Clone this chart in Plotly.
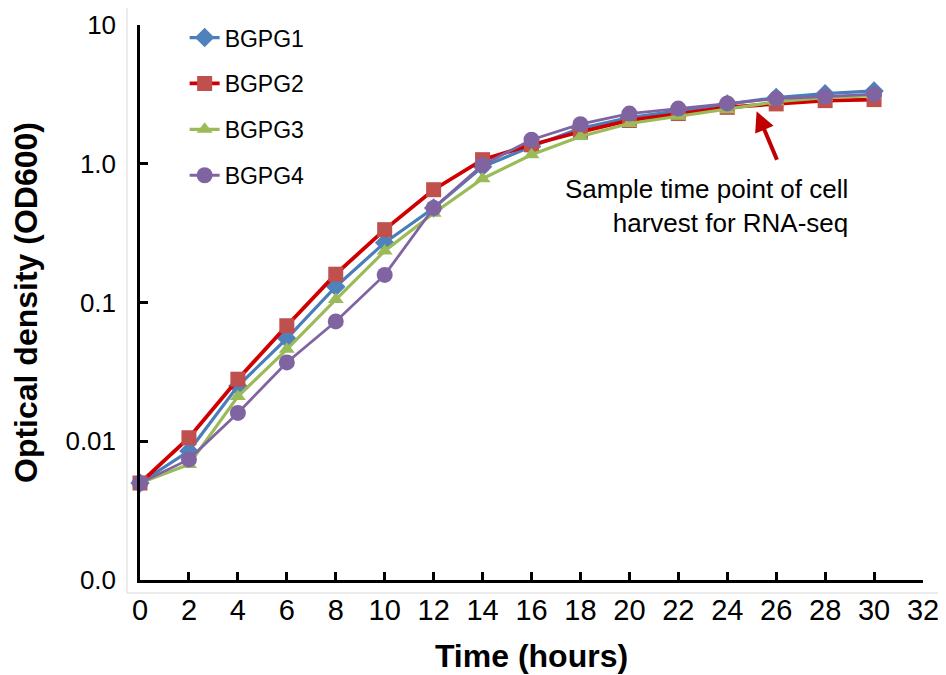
import plotly.graph_objects as go

time_h = [0, 2, 4, 6, 8, 10, 12, 14, 16, 18, 20, 22, 24, 26, 28, 30]
bgpg1 = [0.005, 0.0085, 0.025, 0.055, 0.13, 0.27, 0.48, 0.95, 1.33, 1.8, 2.15, 2.4, 2.7, 3.0, 3.2, 3.35]
bgpg2 = [0.005, 0.0106, 0.028, 0.068, 0.16, 0.335, 0.65, 1.07, 1.37, 1.7, 2.05, 2.3, 2.55, 2.7, 2.85, 2.9]
bgpg3 = [0.005, 0.0068, 0.021, 0.046, 0.105, 0.235, 0.44, 0.78, 1.16, 1.57, 1.95, 2.2, 2.45, 2.8, 3.0, 3.1]
bgpg4 = [0.005, 0.0074, 0.016, 0.037, 0.073, 0.158, 0.48, 0.98, 1.49, 1.93, 2.3, 2.5, 2.72, 2.95, 3.05, 3.18]

y_tickvals = [0.001, 0.01, 0.1, 1, 10]
y_ticktext = ["0.0", "0.01", "0.1", "1.0", "10"]

FONT = "Liberation Sans, Arial, sans-serif"

series = [
    ("BGPG1", bgpg1, "#4A7EBB", "#4F81BD", "diamond", 15, 3.2),
    ("BGPG2", bgpg2, "#D00000", "#C0504D", "square", 15, 3.8),
    ("BGPG3", bgpg3, "#9BBB59", "#9BBB59", "triangle-up", 14, 3.2),
    ("BGPG4", bgpg4, "#8064A2", "#8064A2", "circle", 16, 2.8),
]

fig = go.Figure()
for i, (name, vals, lc, mc, sym, ms, lw) in enumerate(series):
    fig.add_trace(go.Scatter(
        x=time_h, y=vals, name=name, mode="lines+markers",
        line=dict(color=lc, width=lw),
        marker=dict(symbol=sym, size=ms, color=mc, line=dict(width=0)),
        cliponaxis=False, legendgroup=f"g{i}",
    ))

fig.update_layout(
    width=938, height=667,
    margin=dict(l=132, r=23, t=17, b=95, autoexpand=False),
    paper_bgcolor="white", plot_bgcolor="white",
    font=dict(family=FONT, color="black"),
    showlegend=True,
    legend=dict(x=0.057, y=1.016, xanchor="left", yanchor="top",
                font=dict(size=23, family=FONT, color="black"),
                tracegroupgap=13, bgcolor="rgba(0,0,0,0)"),
    xaxis=dict(range=[0, 32], tick0=0, dtick=2, showline=True, linecolor="black",
               linewidth=2.5, ticks="inside", ticklen=8, tickwidth=2.5, tickcolor="black",
               showgrid=False, zeroline=False, automargin=False, ticklabelstandoff=2,
               tickfont=dict(size=29, family=FONT),
               title=dict(text="<b>Time (hours)</b>", font=dict(size=32, family=FONT), standoff=21)),
    yaxis=dict(type="log", range=[-3, 1], tickvals=y_tickvals, ticktext=y_ticktext,
               showline=True, linecolor="black", linewidth=2.5, ticks="inside", ticklen=8,
               tickwidth=2.5, tickcolor="black", showgrid=False, zeroline=False,
               automargin=False, ticklabelstandoff=16,
               tickfont=dict(size=26, family=FONT),
               title=dict(text="<b>Optical density (OD600)</b>", font=dict(size=32, family=FONT), standoff=22)),
    shapes=[dict(type="rect", xref="paper", yref="paper", x0=-0.0166, x1=1.025, y0=-0.0234, y1=1.0324,
                 line=dict(color="#D9D9D9", width=1), fillcolor="rgba(0,0,0,0)", layer="below")],
    annotations=[
        dict(x=25.2, y=0.378, xref="x", yref="y", ax=21, ay=50, showarrow=True,
             arrowhead=2, arrowsize=1, arrowwidth=4, arrowcolor="#C00000", text=""),
        dict(x=29.0, y=-0.302, xref="x", yref="y", xanchor="right", yanchor="middle", align="right",
             showarrow=False, text="Sample time point of cell<br>harvest for RNA-seq",
             font=dict(size=26, family=FONT, color="black")),
    ],
)

fig.write_html("out.html")
